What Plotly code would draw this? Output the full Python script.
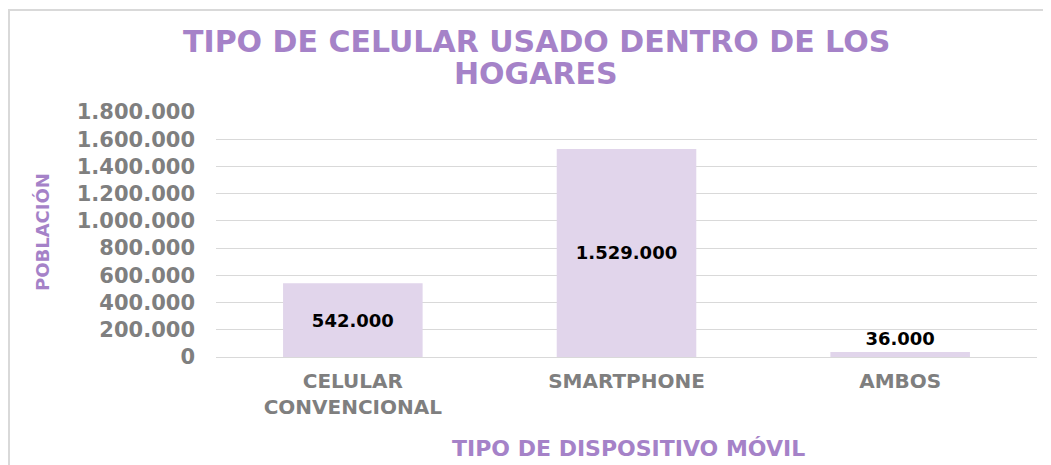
import plotly.graph_objects as go

categories = ["CELULAR<br>CONVENCIONAL", "SMARTPHONE", "AMBOS"]
values = [542000, 1529000, 36000]
labels = ["542.000", "1.529.000", "36.000"]
y_ticks = [0, 200000, 400000, 600000, 800000, 1000000, 1200000, 1400000, 1600000, 1800000]
y_tick_text = ["0", "200.000", "400.000", "600.000", "800.000", "1.000.000",
               "1.200.000", "1.400.000", "1.600.000", "1.800.000"]

# page body has an 8px default margin; work in window pixels and subtract it
OFF = 8
W, H = 1051 - OFF, 465 - OFF
# plot area in window pixels: x 216..1037, y 112..357
ML = 216 - OFF
MT = 112 - OFF
MR = W - (1037 - OFF)
MB = H - (357 - OFF)
PW = W - ML - MR
PH = H - MT - MB

def px_x(px):
    return (px - OFF - ML) / PW

def px_y(py):
    return (H - MB - (py - OFF)) / PH

PURPLE = "#A582C8"
GRAY = "#7F7F7F"
FONT = "DejaVu Sans"

fig = go.Figure()
fig.add_trace(go.Bar(
    x=categories, y=values, text=labels,
    textposition=["inside", "inside", "outside"],
    insidetextanchor="middle",
    textfont=dict(family=FONT, size=18, color="#000000", weight="bold"),
    outsidetextfont=dict(family=FONT, size=18, color="#000000", weight="bold"),
    insidetextfont=dict(family=FONT, size=18, color="#000000", weight="bold"),
    marker=dict(color="#E1D5EB", line=dict(width=0)),
    cliponaxis=False,
    hoverinfo="skip",
))

fig.update_layout(
    width=W, height=H,
    margin=dict(l=ML, r=MR, t=MT, b=MB, pad=0),
    paper_bgcolor="white", plot_bgcolor="white",
    bargap=0.49,
    showlegend=False,
    font=dict(family=FONT),
    xaxis=dict(
        showgrid=False, showline=False, zeroline=False, ticks="",
        tickfont=dict(family=FONT, size=20, color=GRAY, weight="bold"),
        ticklabelstandoff=10,
        fixedrange=True,
    ),
    yaxis=dict(
        range=[0, 1800000],
        tickvals=y_ticks, ticktext=y_tick_text,
        showgrid=True, gridcolor="#D9D9D9", gridwidth=1,
        zeroline=True, zerolinecolor="#D9D9D9", zerolinewidth=1,
        showline=False, ticks="",
        tickfont=dict(family=FONT, size=21, color=GRAY, weight="bold"),
        ticklabelstandoff=20,
        fixedrange=True,
    ),
    annotations=[
        dict(text="TIPO DE CELULAR USADO DENTRO DE LOS", xref="paper", yref="paper",
             x=px_x(536), y=px_y(42), xanchor="center", yanchor="middle", showarrow=False,
             font=dict(family=FONT, size=30, color=PURPLE, weight="bold")),
        dict(text="HOGARES", xref="paper", yref="paper",
             x=px_x(536), y=px_y(73), xanchor="center", yanchor="middle", showarrow=False,
             font=dict(family=FONT, size=30, color=PURPLE, weight="bold")),
        dict(text="TIPO DE DISPOSITIVO MÓVIL", xref="paper", yref="paper",
             x=px_x(628), y=px_y(448), xanchor="center", yanchor="middle", showarrow=False,
             font=dict(family=FONT, size=22, color=PURPLE, weight="bold")),
        dict(text="POBLACIÓN", xref="paper", yref="paper", textangle=-90,
             x=px_x(42), y=px_y(232), xanchor="center", yanchor="middle", showarrow=False,
             font=dict(family=FONT, size=18, color=PURPLE, weight="bold")),
    ],
    shapes=[
        dict(type="line", xref="paper", yref="paper",
             x0=px_x(8), x1=px_x(1060), y0=px_y(10), y1=px_y(10),
             line=dict(color="#D9D9D9", width=2)),
        dict(type="line", xref="paper", yref="paper",
             x0=px_x(9), x1=px_x(9), y0=px_y(10), y1=px_y(475),
             line=dict(color="#D9D9D9", width=2)),
    ],
)

fig.write_html("out.html")
